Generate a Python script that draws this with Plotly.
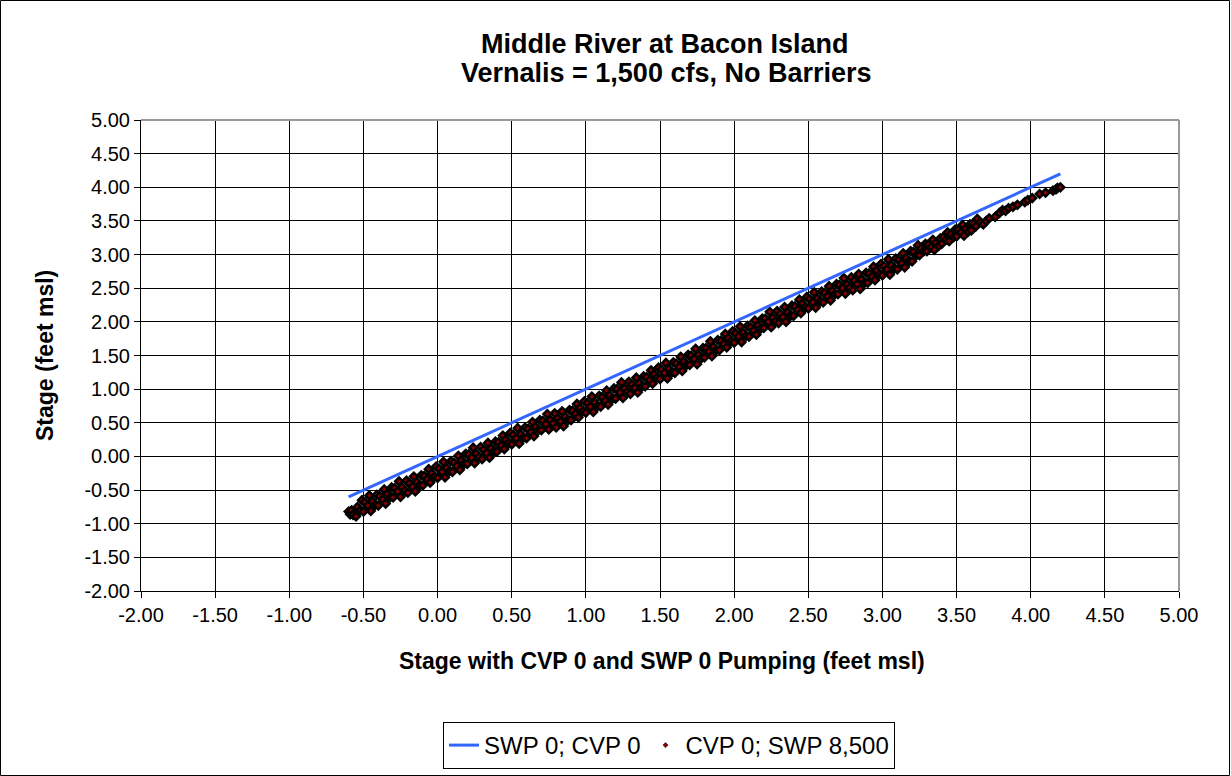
import plotly.graph_objects as go

# ---------------- data ----------------
title_line1 = "Middle River at Bacon Island"
title_line2 = "Vernalis = 1,500 cfs, No Barriers"
x_title = "Stage with CVP 0 and SWP 0 Pumping (feet msl)"
y_title = "Stage (feet msl)"

axis_ticks = [-2.0, -1.5, -1.0, -0.5, 0.0, 0.5, 1.0, 1.5, 2.0, 2.5, 3.0, 3.5, 4.0, 4.5, 5.0]
axis_tick_labels = ["-2.00", "-1.50", "-1.00", "-0.50", "0.00", "0.50", "1.00", "1.50",
                    "2.00", "2.50", "3.00", "3.50", "4.00", "4.50", "5.00"]

base_name = "SWP 0; CVP 0"
base_x = [-0.60, 0.00, 1.00, 2.00, 3.00, 4.20]
base_y = [-0.60, 0.00, 1.00, 2.00, 3.00, 4.20]

pump_name = "CVP 0; SWP 8,500"
pump_x = [
    -0.60, -0.59, -0.58, -0.57,
    -0.55, -0.54, -0.52, -0.51,
    -0.50, -0.49, -0.47, -0.46,
    -0.45, -0.44, -0.42, -0.41,
    -0.40, -0.39, -0.37, -0.36,
    -0.35, -0.34, -0.32, -0.31,
    -0.30, -0.29, -0.27, -0.26,
    -0.25, -0.24, -0.22, -0.21,
    -0.20, -0.19, -0.17, -0.16,
    -0.15, -0.14, -0.12, -0.11,
    -0.10, -0.09, -0.07, -0.06,
    -0.05, -0.04, -0.02, -0.01,
    0.00, 0.01, 0.03, 0.04,
    0.05, 0.06, 0.08, 0.09,
    0.10, 0.11, 0.13, 0.14,
    0.15, 0.16, 0.18, 0.19,
    0.20, 0.21, 0.23, 0.24,
    0.25, 0.26, 0.28, 0.29,
    0.30, 0.31, 0.33, 0.34,
    0.35, 0.36, 0.38, 0.39,
    0.40, 0.41, 0.43, 0.44,
    0.45, 0.46, 0.48, 0.49,
    0.50, 0.51, 0.53, 0.54,
    0.55, 0.56, 0.58, 0.59,
    0.60, 0.61, 0.63, 0.64,
    0.65, 0.66, 0.68, 0.69,
    0.70, 0.71, 0.73, 0.74,
    0.75, 0.76, 0.78, 0.79,
    0.80, 0.81, 0.83, 0.84,
    0.85, 0.86, 0.88, 0.89,
    0.90, 0.91, 0.93, 0.94,
    0.95, 0.96, 0.98, 0.99,
    1.00, 1.01, 1.03, 1.04,
    1.05, 1.06, 1.08, 1.09,
    1.10, 1.11, 1.13, 1.14,
    1.15, 1.16, 1.18, 1.19,
    1.20, 1.21, 1.23, 1.24,
    1.25, 1.26, 1.28, 1.29,
    1.30, 1.31, 1.33, 1.34,
    1.35, 1.36, 1.38, 1.39,
    1.40, 1.41, 1.43, 1.44,
    1.45, 1.46, 1.48, 1.49,
    1.50, 1.51, 1.53, 1.54,
    1.55, 1.56, 1.58, 1.59,
    1.60, 1.61, 1.63, 1.64,
    1.65, 1.66, 1.68, 1.69,
    1.70, 1.71, 1.73, 1.74,
    1.75, 1.76, 1.78, 1.79,
    1.80, 1.81, 1.83, 1.84,
    1.85, 1.86, 1.88, 1.89,
    1.90, 1.91, 1.93, 1.94,
    1.95, 1.96, 1.98, 1.99,
    2.00, 2.01, 2.03, 2.04,
    2.05, 2.06, 2.08, 2.09,
    2.10, 2.11, 2.13, 2.14,
    2.15, 2.16, 2.18, 2.19,
    2.20, 2.21, 2.23, 2.24,
    2.25, 2.26, 2.28, 2.29,
    2.30, 2.31, 2.33, 2.34,
    2.35, 2.36, 2.38, 2.39,
    2.40, 2.41, 2.43, 2.44,
    2.45, 2.46, 2.48, 2.49,
    2.50, 2.51, 2.53, 2.54,
    2.55, 2.56, 2.58, 2.59,
    2.60, 2.61, 2.63, 2.64,
    2.65, 2.66, 2.68, 2.69,
    2.70, 2.71, 2.73, 2.74,
    2.75, 2.76, 2.78, 2.79,
    2.80, 2.81, 2.83, 2.84,
    2.85, 2.86, 2.88, 2.89,
    2.90, 2.91, 2.93, 2.94,
    2.95, 2.96, 2.98, 2.99,
    3.00, 3.01, 3.03, 3.04,
    3.05, 3.06, 3.08, 3.09,
    3.10, 3.11, 3.13, 3.14,
    3.15, 3.16, 3.18, 3.19,
    3.20, 3.21, 3.23, 3.24,
    3.25, 3.26, 3.28, 3.29,
    3.30, 3.31, 3.33, 3.34,
    3.35, 3.36, 3.38, 3.39,
    3.40, 3.41, 3.43, 3.44,
    3.45, 3.46, 3.48, 3.49,
    3.50, 3.51, 3.53, 3.54,
    3.55, 3.56, 3.58, 3.59,
    3.60, 3.61, 3.63, 3.64,
    3.66, 3.68, 3.70, 3.72, 3.76, 3.79, 3.81, 3.83, 3.85, 3.88,
    3.91, 3.96, 3.98, 4.01, 4.06, 4.10, 4.15, 4.17, 4.18, 4.20,
]
pump_y = [
    -0.82, -0.86, -0.80, -0.87,
    -0.89, -0.75, -0.80, -0.65,
    -0.82, -0.68, -0.73, -0.58,
    -0.81, -0.67, -0.72, -0.57,
    -0.73, -0.59, -0.64, -0.49,
    -0.70, -0.56, -0.61, -0.46,
    -0.61, -0.47, -0.52, -0.37,
    -0.60, -0.46, -0.51, -0.36,
    -0.54, -0.40, -0.45, -0.30,
    -0.52, -0.38, -0.43, -0.28,
    -0.43, -0.29, -0.34, -0.19,
    -0.39, -0.25, -0.30, -0.15,
    -0.32, -0.18, -0.23, -0.08,
    -0.31, -0.17, -0.22, -0.07,
    -0.23, -0.09, -0.14, 0.01,
    -0.20, -0.06, -0.11, 0.04,
    -0.11, 0.03, -0.02, 0.13,
    -0.10, 0.04, -0.01, 0.14,
    -0.04, 0.10, 0.05, 0.20,
    -0.02, 0.12, 0.07, 0.22,
    0.07, 0.21, 0.16, 0.31,
    0.11, 0.25, 0.20, 0.35,
    0.18, 0.32, 0.27, 0.42,
    0.19, 0.33, 0.28, 0.43,
    0.27, 0.41, 0.36, 0.51,
    0.30, 0.44, 0.39, 0.54,
    0.39, 0.53, 0.48, 0.63,
    0.40, 0.54, 0.49, 0.64,
    0.43, 0.57, 0.52, 0.67,
    0.45, 0.59, 0.54, 0.69,
    0.54, 0.68, 0.63, 0.78,
    0.58, 0.72, 0.67, 0.82,
    0.65, 0.79, 0.74, 0.89,
    0.66, 0.80, 0.75, 0.90,
    0.74, 0.88, 0.83, 0.98,
    0.77, 0.91, 0.86, 1.01,
    0.86, 1.00, 0.95, 1.10,
    0.87, 1.01, 0.96, 1.11,
    0.93, 1.07, 1.02, 1.17,
    0.95, 1.09, 1.04, 1.19,
    1.04, 1.18, 1.13, 1.28,
    1.08, 1.22, 1.17, 1.32,
    1.15, 1.29, 1.24, 1.39,
    1.16, 1.30, 1.25, 1.40,
    1.24, 1.38, 1.33, 1.48,
    1.27, 1.41, 1.36, 1.51,
    1.36, 1.50, 1.45, 1.60,
    1.37, 1.51, 1.46, 1.61,
    1.47, 1.61, 1.56, 1.71,
    1.49, 1.63, 1.58, 1.73,
    1.58, 1.72, 1.67, 1.82,
    1.62, 1.76, 1.71, 1.86,
    1.69, 1.83, 1.78, 1.93,
    1.70, 1.84, 1.79, 1.94,
    1.78, 1.92, 1.87, 2.02,
    1.81, 1.95, 1.90, 2.05,
    1.91, 2.05, 2.00, 2.15,
    1.92, 2.06, 2.01, 2.16,
    1.98, 2.12, 2.07, 2.22,
    2.00, 2.14, 2.09, 2.24,
    2.09, 2.23, 2.18, 2.33,
    2.13, 2.27, 2.22, 2.37,
    2.20, 2.34, 2.29, 2.44,
    2.21, 2.35, 2.30, 2.45,
    2.29, 2.43, 2.38, 2.53,
    2.32, 2.46, 2.41, 2.56,
    2.41, 2.55, 2.50, 2.65,
    2.42, 2.56, 2.51, 2.66,
    2.47, 2.61, 2.56, 2.71,
    2.49, 2.63, 2.58, 2.73,
    2.58, 2.72, 2.67, 2.82,
    2.62, 2.76, 2.71, 2.86,
    2.69, 2.83, 2.78, 2.93,
    2.70, 2.84, 2.79, 2.94,
    2.78, 2.92, 2.87, 3.02,
    2.81, 2.95, 2.90, 3.05,
    2.90, 3.04, 2.99, 3.14,
    2.99, 3.09, 3.05, 3.16,
    3.05, 3.15, 3.11, 3.22,
    3.07, 3.17, 3.13, 3.24,
    3.16, 3.26, 3.22, 3.33,
    3.20, 3.30, 3.26, 3.37,
    3.27, 3.37, 3.33, 3.44,
    3.28, 3.38, 3.34, 3.45,
    3.36, 3.46, 3.42, 3.53,
    3.48, 3.45, 3.50, 3.54, 3.56, 3.62, 3.66, 3.65, 3.69, 3.71,
    3.74, 3.78, 3.81, 3.84, 3.90, 3.92, 3.95, 3.97, 3.99, 4.00,
]

# ---------------- styling ----------------
FONT = "Liberation Sans, Arial, sans-serif"
W, H = 1231, 776
L, R, T, B = 141, 52, 120, 185
PW, PH = W - L - R, H - T - B


def px_x(p):
    return (p - L) / PW


def px_y(p):
    return (H - B - p) / PH


fig = go.Figure()

fig.add_trace(go.Scatter(
    x=pump_x, y=pump_y, mode="markers", name=pump_name, showlegend=False,
    marker=dict(symbol="diamond", size=6, color="#880000",
                line=dict(color="black", width=2.4)),
))
fig.add_trace(go.Scatter(
    x=base_x, y=base_y, mode="lines", name=base_name,
    line=dict(color="#3366ff", width=3),
))
# legend entry for the pumping series (small marker like the original)
fig.add_trace(go.Scatter(
    x=[None], y=[None], mode="markers", name=pump_name,
    marker=dict(symbol="diamond", size=4, color="#800000",
                line=dict(color="#400000", width=0.5)),
))

axis_common = dict(
    range=[-2, 5], tickmode="array", tickvals=axis_ticks, ticktext=axis_tick_labels,
    showgrid=True, gridcolor="black", gridwidth=1,
    zeroline=False, showline=True, linecolor="black", linewidth=1,
    ticks="outside", ticklen=6, tickcolor="black", tickwidth=1,
    tickfont=dict(family=FONT, size=20, color="black"),
    mirror=False, fixedrange=True,
)

fig.update_layout(
    width=W, height=H,
    margin=dict(l=L, r=R, t=T, b=B, autoexpand=False),
    paper_bgcolor="white", plot_bgcolor="white",
    xaxis=dict(axis_common),
    yaxis=dict(axis_common),
    showlegend=True,
    legend=dict(
        orientation="h", x=px_x(669), xanchor="center", y=px_y(722), yanchor="top",
        bordercolor="black", borderwidth=1, bgcolor="white",
        font=dict(family=FONT, size=24, color="black"),
        traceorder="normal",
    ),
    annotations=[
        dict(text="<b>" + title_line1 + "</b>", x=px_x(665), y=px_y(44), xref="paper", yref="paper",
             xanchor="center", yanchor="middle", showarrow=False,
             font=dict(family=FONT, size=27, color="black")),
        dict(text="<b>" + title_line2 + "</b>", x=px_x(666), y=px_y(73), xref="paper", yref="paper",
             xanchor="center", yanchor="middle", showarrow=False,
             font=dict(family=FONT, size=27, color="black")),
        dict(text="<b>" + x_title + "</b>", x=px_x(662), y=px_y(661), xref="paper", yref="paper",
             xanchor="center", yanchor="middle", showarrow=False,
             font=dict(family=FONT, size=23, color="black")),
        dict(text="<b>" + y_title + "</b>", x=px_x(45), y=px_y(356), xref="paper", yref="paper",
             xanchor="center", yanchor="middle", showarrow=False, textangle=-90,
             font=dict(family=FONT, size=23, color="black")),
    ],
    shapes=[
        # gray top/right border of the plot area
        dict(type="line", xref="paper", yref="paper", x0=0, x1=1, y0=1, y1=1,
             line=dict(color="#999999", width=2)),
        dict(type="line", xref="paper", yref="paper", x0=1, x1=1, y0=0, y1=1,
             line=dict(color="#999999", width=2)),
        # outer chart frame
        dict(type="rect", xref="paper", yref="paper",
             x0=px_x(0.5), x1=px_x(1229.5), y0=px_y(775.5), y1=px_y(0.5),
             line=dict(color="black", width=1), layer="above"),
    ],
)

fig.write_html(
    "out.html",
    config={"displayModeBar": False},
    post_script="document.body.style.margin='0';document.body.style.overflow='hidden';",
)
